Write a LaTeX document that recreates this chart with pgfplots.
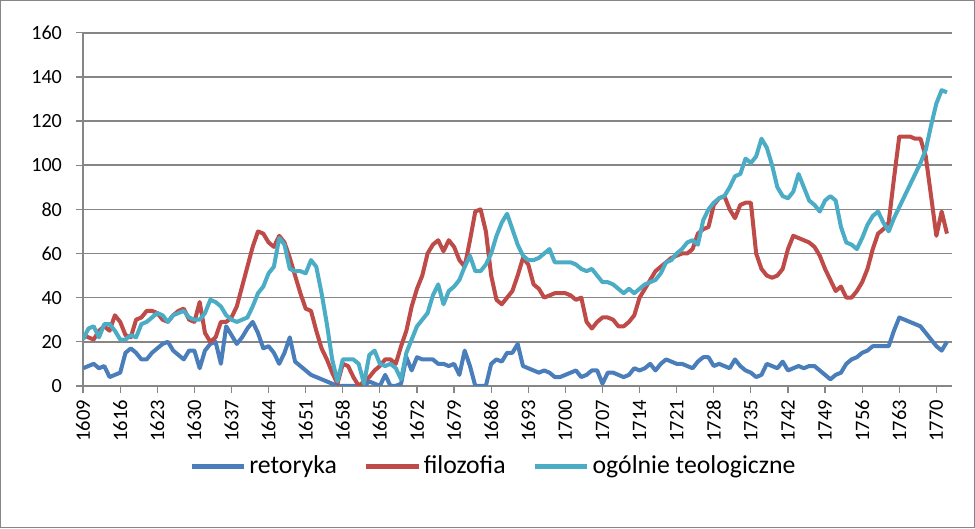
\documentclass[border=0pt]{standalone}
\usepackage{pgfplots}
\pgfplotsset{compat=1.18}
\usepackage{pgfplotstable}
\usepackage{fontspec}
\setmainfont{Carlito}
\definecolor{cret}{HTML}{4A7EBB}
\definecolor{cfil}{HTML}{BE4B48}
\definecolor{cteo}{HTML}{4BACC6}
\definecolor{gridc}{HTML}{868686}

\pgfplotstableread{
year ret fil teo
1609 8 23 21
1610 9 22 26
1611 10 21 27
1612 8 25 22
1613 9 27 28
1614 4 25 28
1615 5 32 25
1616 6 29 21
1617 15 23 21
1618 17 22 23
1619 15 30 22
1620 12 31 28
1621 12 34 29
1622 15 34 31
1623 17 33 33
1624 19 30 32
1625 20 29 29
1626 16 32 32
1627 14 34 33
1628 12 35 34
1629 16 30 31
1630 16 29 30
1631 8 38 30
1632 16 24 33
1633 19 20 39
1634 20 22 38
1635 10 29 36
1636 27 29 32
1637 23 31 30
1638 19 36 29
1639 22 45 30
1640 26 54 31
1641 29 63 36
1642 24 70 42
1643 17 69 45
1644 18 65 51
1645 15 63 54
1646 10 68 67
1647 15 65 64
1648 22 58 53
1649 11 50 52
1650 9 42 52
1651 7 35 51
1652 5 34 57
1653 4 25 54
1654 3 17 42
1655 2 12 28
1656 1 6 12
1657 0 1 2
1658 0 10 12
1659 0 9 12
1660 0 4 12
1661 0 0 10
1662 0 2 1
1663 2 4 14
1664 1 7 16
1665 0 9 10
1666 5 12 9
1667 0 12 10
1668 0 10 8
1669 1 18 3
1670 13 25 15
1671 7 36 21
1672 13 44 27
1673 12 50 30
1674 12 60 33
1675 12 64 41
1676 10 66 46
1677 10 61 37
1678 9 66 43
1679 10 63 45
1680 5 57 48
1681 16 54 54
1682 9 66 59
1683 0 79 52
1684 0 80 52
1685 0 70 55
1686 10 50 60
1687 12 39 68
1688 11 37 74
1689 15 40 78
1690 15 43 71
1691 19 50 64
1692 9 58 59
1693 8 55 57
1694 7 46 57
1695 6 44 58
1696 7 40 60
1697 6 41 62
1698 4 42 56
1699 4 42 56
1700 5 42 56
1701 6 41 56
1702 7 39 55
1703 4 40 53
1704 5 29 52
1705 7 26 53
1706 7 29 50
1707 1 31 47
1708 6 31 47
1709 6 30 46
1710 5 27 44
1711 4 27 42
1712 5 29 44
1713 8 32 42
1714 7 40 44
1715 8 44 46
1716 10 48 47
1717 7 52 48
1718 10 54 51
1719 12 56 56
1720 11 58 57
1721 10 59 60
1722 10 60 62
1723 9 60 65
1724 8 62 66
1725 11 69 64
1726 13 71 75
1727 13 72 80
1728 9 82 83
1729 10 85 85
1730 9 86 86
1731 8 80 90
1732 12 76 95
1733 9 82 96
1734 7 83 103
1735 6 83 101
1736 4 60 104
1737 5 53 112
1738 10 50 108
1739 9 49 100
1740 8 50 90
1741 11 53 86
1742 7 62 85
1743 8 68 88
1744 9 67 96
1745 8 66 90
1746 9 65 84
1747 9 63 82
1748 7 59 79
1749 5 53 84
1750 3 48 86
1751 5 43 84
1752 6 45 72
1753 10 40 65
1754 12 40 64
1755 13 43 62
1756 15 47 67
1757 16 53 73
1758 18 62 77
1759 18 69 79
1760 18 71 74
1761 18 74 70
1762 25 94 76
1763 31 113 81
1764 30 113 86
1765 29 113 91
1766 28 112 96
1767 27 112 101
1768 24 104 107
1769 21 86 118
1770 18 68 128
1771 16 79 134
1772 20 69 133
}\data

\begin{document}
\fontsize{10}{12}\selectfont
\begin{tikzpicture}
\begin{axis}[
  name=ax,
  scale only axis,
  width=432pt, height=175.5pt,
  xmin=1609, xmax=1773,
  ymin=0, ymax=160,
  ytick={0,20,...,160},
  xtick={1609,1616,...,1770},
  minor x tick num=6,
  ymajorgrids,
  major grid style={gridc, line width=0.8pt},
  axis x line*=bottom, axis y line*=left,
  axis line style={gridc, line width=0.8pt, -},
  tick style={gridc, line width=0.6pt},
  tick align=outside,
  major tick length=3.5pt, minor tick length=3.5pt,
  /pgf/number format/assume math mode=true,
  /pgf/number format/1000 sep={},
  xticklabel style={rotate=90, anchor=east, font=\fontsize{10.2}{12}\selectfont},
  yticklabel style={font=\fontsize{10}{12}\selectfont, xshift=-3.5pt},
  legend style={at={(0.471,-0.228)}, anchor=center, legend columns=3, draw=none,
    font=\fontsize{12.8}{14}\selectfont,
    nodes={inner xsep=0pt},
    /tikz/every odd column/.append style={column sep=1.5pt},
    /tikz/every even column/.append style={column sep=13.5pt}},
  legend image code/.code={\draw[#1, line width=2.2pt] (0pt,0pt) -- (26pt,0pt);},
  every axis plot/.append style={line width=2pt, line join=round, no marks},
]
\addplot[cret] table[x=year, y=ret] {\data};
\addplot[cfil] table[x=year, y=fil] {\data};
\addplot[cteo] table[x=year, y=teo] {\data};
\legend{retoryka, filozofia, ogólnie teologiczne}
\end{axis}
\draw[gridc, line width=0.6pt] ([xshift=-41pt,yshift=16pt]ax.north west) rectangle ([xshift=11pt,yshift=-70.5pt]ax.south east);
\end{tikzpicture}
\end{document}
